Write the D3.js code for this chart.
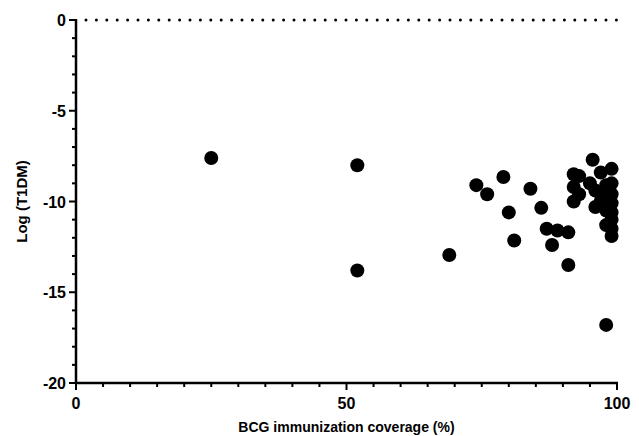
<!DOCTYPE html>
<html>
<head>
<meta charset="utf-8">
<script src="https://cdn.jsdelivr.net/npm/d3@7"></script>
<style>
body { margin: 0; background: #fff; }
text { font-family: "Liberation Sans", Arial, sans-serif; font-weight: bold; }
</style>
</head>
<body>
<script>
// BCG coverage (%) per country
var coverage = [25, 52, 52, 69, 74, 76, 79, 80, 81, 84, 86, 87, 88, 89, 91, 91,
  92, 92, 92, 93, 93, 95.5, 95, 96, 96, 97, 97, 97, 98, 98, 98, 98,
  99, 99, 99, 99, 99, 99, 99, 99];
// Log (T1DM)
var logT1DM = [-7.6, -8.0, -13.8, -12.95, -9.1, -9.6, -8.65, -10.6, -12.15, -9.3, -10.35, -11.5, -12.4, -11.6, -11.7, -13.5,
  -8.5, -9.2, -10.0, -8.6, -9.6, -7.7, -9.0, -9.4, -10.3, -8.4, -9.6, -10.0, -9.1, -10.5, -11.3, -16.8,
  -8.2, -9.0, -9.6, -10.1, -10.6, -11.0, -11.5, -11.9];

var xTicks = [0, 50, 100];
var yTicks = [0, -5, -10, -15, -20];

var width = 639, height = 436;
var mLeft = 76, mRight = 617, mTop = 20, mBottom = 383;

var svg = d3.select("body").append("svg")
    .attr("width", width)
    .attr("height", height);

var x = d3.scaleLinear().domain([0, 100]).range([mLeft, mRight]);
var y = d3.scaleLinear().domain([-20, 0]).range([mBottom, mTop]);

// reference line at 0
svg.append("line")
    .attr("x1", x(0) + 10)
    .attr("x2", x(100))
    .attr("y1", y(0))
    .attr("y2", y(0))
    .attr("stroke", "#000")
    .attr("stroke-width", 3)
    .attr("stroke-linecap", "round")
    .attr("stroke-dasharray", "0,10.4");

// minor ticks
var xMinor = d3.range(0, 101, 5);
var yMinor = d3.range(-20, 1, 1);

var gx = svg.append("g");
gx.selectAll(".minor").data(xMinor).enter().append("line")
    .attr("x1", function(d) { return x(d); })
    .attr("x2", function(d) { return x(d); })
    .attr("y1", mBottom)
    .attr("y2", function(d) { return xTicks.indexOf(d) >= 0 ? mBottom + 7 : mBottom + 4; })
    .attr("stroke", "#000")
    .attr("stroke-width", 2);
gx.append("line")
    .attr("x1", x(0) - 1).attr("x2", x(100) + 1)
    .attr("y1", mBottom).attr("y2", mBottom)
    .attr("stroke", "#000").attr("stroke-width", 2.5);
gx.selectAll(".lab").data(xTicks).enter().append("text")
    .attr("x", function(d) { return x(d); })
    .attr("y", mBottom + 26)
    .attr("text-anchor", "middle")
    .attr("font-size", "16px")
    .text(function(d) { return d; });

var gy = svg.append("g");
gy.selectAll(".minor").data(yMinor).enter().append("line")
    .attr("y1", function(d) { return y(d); })
    .attr("y2", function(d) { return y(d); })
    .attr("x1", mLeft)
    .attr("x2", function(d) { return yTicks.indexOf(d) >= 0 ? mLeft - 7 : mLeft - 4; })
    .attr("stroke", "#000")
    .attr("stroke-width", 2);
gy.append("line")
    .attr("y1", y(0) - 1).attr("y2", y(-20) + 1)
    .attr("x1", mLeft).attr("x2", mLeft)
    .attr("stroke", "#000").attr("stroke-width", 2.5);
gy.selectAll(".lab").data(yTicks).enter().append("text")
    .attr("x", mLeft - 10)
    .attr("y", function(d) { return y(d) + 6; })
    .attr("text-anchor", "end")
    .attr("font-size", "16px")
    .text(function(d) { return d; });

// axis titles
svg.append("text")
    .attr("x", (mLeft + mRight) / 2)
    .attr("y", 432)
    .attr("text-anchor", "middle")
    .attr("font-size", "14px")
    .text("BCG immunization coverage (%)");

svg.append("text")
    .attr("transform", "translate(27," + ((mTop + mBottom) / 2) + ") rotate(-90)")
    .attr("text-anchor", "middle")
    .attr("font-size", "15px")
    .text("Log (T1DM)");

// points
svg.selectAll(".dot").data(coverage).enter().append("circle")
    .attr("cx", function(d) { return x(d); })
    .attr("cy", function(d, i) { return y(logT1DM[i]); })
    .attr("r", 7)
    .attr("fill", "#000");
</script>
</body>
</html>
